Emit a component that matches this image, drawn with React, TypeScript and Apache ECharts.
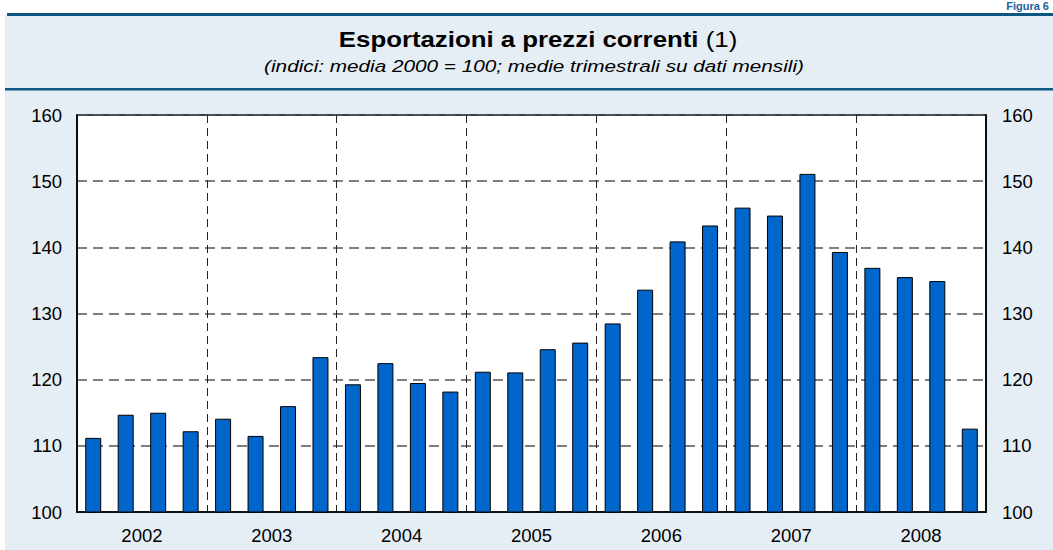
import React, { useEffect, useRef } from "react";
import * as echarts from "echarts";

const years = ["2002", "2003", "2004", "2005", "2006", "2007", "2008"];
const quarters = years.flatMap((y) => ["I", "II", "III", "IV"].map((q) => `${q} ${y}`));
const exportsIndex = [
  111.2, 114.7, 115.0, 112.2,
  114.1, 111.5, 116.0, 123.4,
  119.3, 122.5, 119.5, 118.2,
  121.2, 121.1, 124.6, 125.6,
  128.5, 133.6, 140.9, 143.3,
  146.0, 144.8, 151.1, 139.3,
  136.9, 135.5, 134.9, 112.6,
];
const yMin = 100;
const yMax = 160;
const yStep = 10;

const titleBold = "Esportazioni a prezzi correnti";
const titleNote = "(1)";
const subtitle = "(indici: media 2000 = 100; medie trimestrali su dati mensili)";
const figureLabel = "Figura 6";

const FONT = "'Liberation Sans', Arial, sans-serif";

export default function App() {
  const ref = useRef<HTMLDivElement>(null);
  useEffect(() => {
    if (!ref.current) return;
    const chart = echarts.init(ref.current, undefined, { renderer: "svg" });
    const axisLabel = { color: "#000", fontSize: 18.5, fontFamily: FONT };
    chart.setOption({
      animation: false,
      backgroundColor: "#fff",
      textStyle: { fontFamily: FONT },
      graphic: [
        { type: "rect", z: -100, shape: { x: 5, y: 15, width: 1048, height: 535 }, style: { fill: "#e6eef5" } },
        { type: "rect", z: 10, shape: { x: 7, y: 13, width: 1046, height: 3 }, style: { fill: "#0b5781" } },
        { type: "rect", z: 10, shape: { x: 5, y: 88, width: 1048, height: 2.5 }, style: { fill: "#0b5781" } },
        {
          type: "text", z: 10, x: 1049, y: 0,
          style: { text: figureLabel, align: "right", verticalAlign: "top", fontSize: 11, fontWeight: "bold", fill: "#1d5f9a", fontFamily: FONT },
        },
        {
          type: "text", z: 10, x: 538, y: 40, scaleX: 1.2,
          style: {
            text: `{b|${titleBold}} {n|${titleNote}}`,
            align: "center", verticalAlign: "middle",
            fontSize: 21.5, fontFamily: FONT, fill: "#000",
            rich: {
              b: { fontSize: 21.5, fontWeight: "bold", fill: "#000", fontFamily: FONT },
              n: { fontSize: 21.5, fontWeight: "normal", fill: "#000", fontFamily: FONT },
            },
          },
        },
        {
          type: "text", z: 10, x: 534, y: 66, scaleX: 1.22,
          style: {
            text: subtitle, align: "center", verticalAlign: "middle",
            fontSize: 17, fontStyle: "italic", fill: "#000", fontFamily: FONT,
          },
        },
      ],
      grid: {
        left: 77, right: 67, top: 115, bottom: 38,
        show: true, backgroundColor: "#fff", borderColor: "#000", borderWidth: 1.5,
      },
      xAxis: [
        {
          type: "category",
          data: quarters,
          boundaryGap: true,
          axisLine: { show: true, lineStyle: { color: "#000", width: 1.5 } },
          axisTick: { show: false, interval: 3 },
          axisLabel: { show: false, interval: 3 },
          splitLine: { show: true, interval: 3, lineStyle: { color: "#222", type: [8, 5], width: 1 } },
        },
        {
          type: "category",
          data: years,
          position: "bottom",
          axisLine: { show: false },
          axisTick: { show: false },
          axisLabel: { ...axisLabel, margin: 14 },
          splitLine: { show: false },
        },
      ],
      yAxis: [
        {
          type: "value", min: yMin, max: yMax, interval: yStep, position: "left",
          axisLine: { show: true, lineStyle: { color: "#000", width: 1.5 } },
          axisTick: { show: false },
          axisLabel: { ...axisLabel, margin: 15 },
          splitLine: { show: true, lineStyle: { color: "#555", type: [10, 6], width: 1.5 } },
        },
        {
          type: "value", min: yMin, max: yMax, interval: yStep, position: "right",
          axisLine: { show: true, lineStyle: { color: "#000", width: 1.5 } },
          axisTick: { show: false },
          axisLabel: { ...axisLabel, margin: 16 },
          splitLine: { show: false },
        },
      ],
      series: [
        {
          type: "bar",
          xAxisIndex: 0,
          yAxisIndex: 0,
          data: exportsIndex,
          barWidth: 16,
          itemStyle: { color: "#0066cc", borderColor: "#000", borderWidth: 1 },
        },
      ],
    });
    return () => chart.dispose();
  }, []);
  return <div ref={ref} style={{ position: "fixed", left: 0, top: 0, width: 1053, height: 550 }} />;
}
